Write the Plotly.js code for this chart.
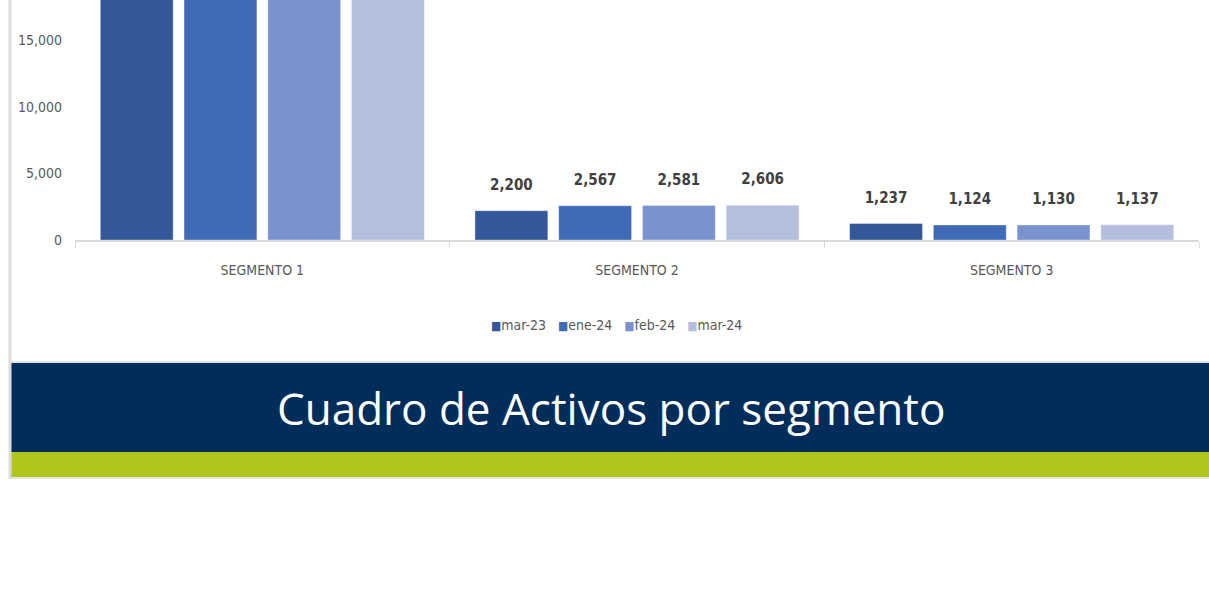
<!DOCTYPE html>
<html>
<head>
<meta charset="utf-8">
<script src="https://cdn.plot.ly/plotly-3.0.1.min.js"></script>
<style>html,body{margin:0;padding:0;background:#fff;}#chart{width:1209px;height:607px;}</style>
</head>
<body>
<div id="chart"></div>
<script>
// Data
const categories = ["SEGMENTO 1", "SEGMENTO 2", "SEGMENTO 3"];
const seriesNames = ["mar-23", "ene-24", "feb-24", "mar-24"];
const mar23 = [20960, 2200, 1237];
const ene24 = [22450, 2567, 1124];
const feb24 = [22580, 2581, 1130];
const mar24 = [22730, 2606, 1137];
const yTicks = [0, 5000, 10000, 15000];
const chartTitle = "Cuadro de Activos por segmento";

const colors = ["#325899", "#3F6AB6", "#7A93CE", "#B4BFE0"];
const values = [mar23, ene24, feb24, mar24];

const W = 1209, H = 607;
const ML = 75, MR = 10, MT = 0, PLOT_H = 240;
const MB = H - MT - PLOT_H;
const PW = W - ML - MR;
const px2x = p => (p - ML) / PW;
const px2y = p => (MT + PLOT_H - p) / PLOT_H;

const narrow = "Liberation Sans Narrow, Arial Narrow, DejaVu Sans Condensed, sans-serif";

const barTraces = seriesNames.map((name, i) => ({
  type: "bar",
  name: name,
  x: categories,
  y: values[i],
  offsetgroup: "g" + i,
  marker: {color: colors[i], line: {color: "rgba(255,255,255,0.35)", width: 1}},
  hoverinfo: "skip",
  showlegend: false
}));

// Value labels: grouped scatter text placed above each bar
const labelTraces = seriesNames.map((name, i) => ({
  type: "scatter",
  mode: "markers+text",
  name: name + " labels",
  x: categories,
  y: values[i],
  offsetgroup: "g" + i,
  text: values[i].map(v => v.toLocaleString("en-US")),
  textposition: "top center",
  textfont: {family: narrow, size: 15, color: "#404040", weight: "bold"},
  marker: {size: 26, color: "rgba(255,255,255,0)", line: {width: 0}},
  cliponaxis: true,
  hoverinfo: "skip",
  showlegend: false
}));

// Legend built as a text line from series names and colours
const legendText = seriesNames.map((n, i) =>
  '<span style="color:' + colors[i] + ';font-size:12px">\u25A0</span>' + n).join("\u00a0\u00a0\u00a0");

const grey = "#d9d9d9";
const shapes = [
  {type: "rect", xref: "paper", yref: "paper", x0: px2x(11), x1: px2x(1212), y0: px2y(452), y1: px2y(363),
   fillcolor: "#002D5A", line: {width: 0}, layer: "below"},
  {type: "rect", xref: "paper", yref: "paper", x0: px2x(11), x1: px2x(1212), y0: px2y(477), y1: px2y(452),
   fillcolor: "#B0C61C", line: {width: 0}, layer: "below"},
  {type: "line", xref: "paper", yref: "paper", x0: px2x(11), x1: px2x(1212), y0: px2y(362), y1: px2y(362),
   line: {color: "#e3e3e3", width: 2}},
  {type: "line", xref: "paper", yref: "paper", x0: px2x(9), x1: px2x(1212), y0: px2y(478), y1: px2y(478),
   line: {color: "#e3e3e3", width: 2}},
  {type: "line", xref: "paper", yref: "paper", x0: px2x(10), x1: px2x(10), y0: px2y(479), y1: px2y(-2),
   line: {color: "#dcdcdc", width: 3}}
];

const layout = {
  width: W, height: H,
  margin: {l: ML, r: MR, t: MT, b: MB, pad: 0},
  paper_bgcolor: "#ffffff",
  plot_bgcolor: "#ffffff",
  barmode: "group",
  bargap: 0.106,
  bargroupgap: 0.13,
  scattermode: "group",
  scattergap: 0.106,
  showlegend: false,
  xaxis: {
    type: "category",
    showline: true, linecolor: grey, linewidth: 2,
    ticks: "outside", tickson: "boundaries", ticklen: 6, tickcolor: grey, tickwidth: 1,
    ticklabelstandoff: 16,
    tickfont: {family: narrow, size: 14, color: "#595959"},
    showgrid: false, zeroline: false, fixedrange: true
  },
  yaxis: {
    range: [0, 18000],
    tickvals: yTicks,
    tickformat: ",d",
    showline: false, showgrid: false, zeroline: false,
    ticks: "", ticklabelstandoff: 12,
    tickfont: {family: narrow, size: 14, color: "#595959"},
    fixedrange: true
  },
  shapes: shapes,
  annotations: [
    {
      xref: "paper", yref: "paper",
      x: px2x(611), y: px2y(408), xanchor: "center", yanchor: "middle",
      text: chartTitle, showarrow: false,
      font: {family: "Open Sans, Noto Sans, sans-serif", size: 44, color: "#ffffff"}
    },
    {
      xref: "paper", yref: "paper",
      x: px2x(616), y: px2y(325), xanchor: "center", yanchor: "middle",
      text: legendText, showarrow: false,
      font: {family: narrow, size: 14, color: "#595959"}
    }
  ]
};

Plotly.newPlot("chart", barTraces.concat(labelTraces), layout, {displayModeBar: false, staticPlot: true});
</script>
</body>
</html>
